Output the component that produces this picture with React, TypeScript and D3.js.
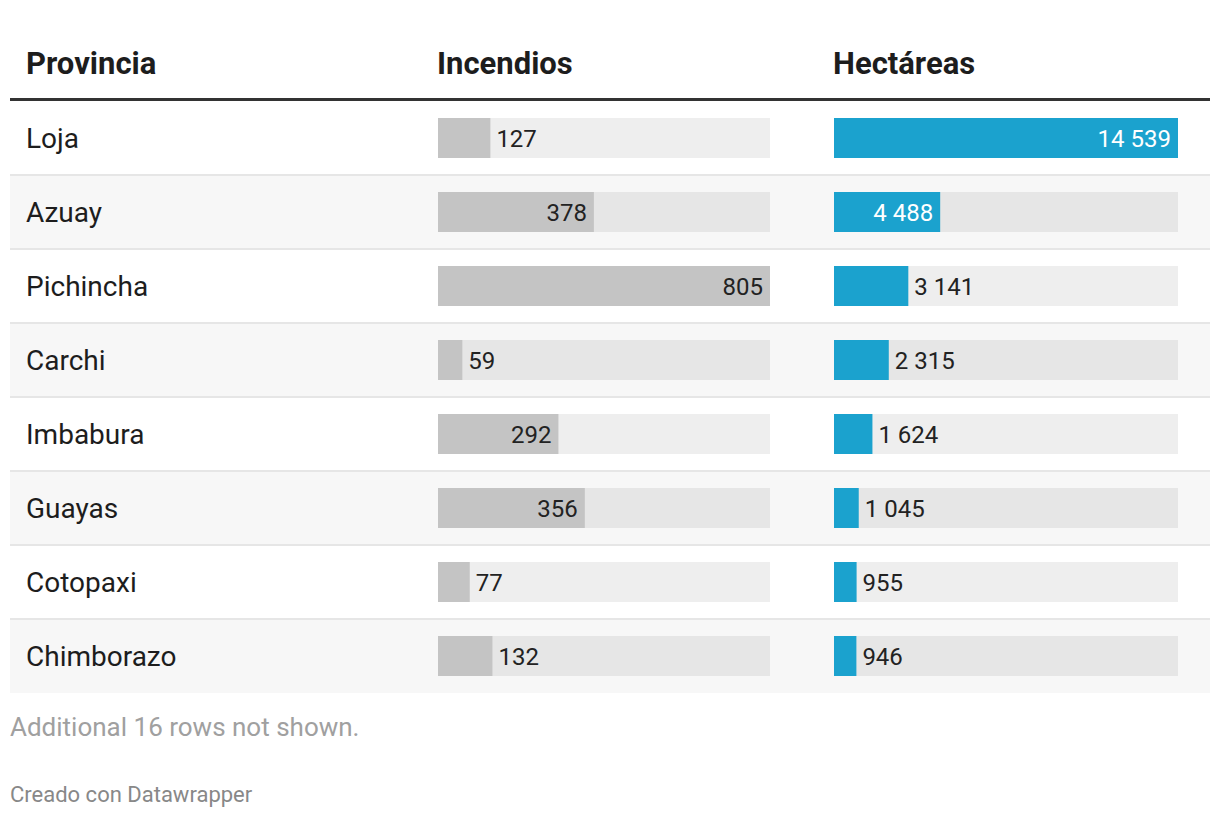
import React from "react";
import * as d3 from "d3";

const provinces = ["Loja", "Azuay", "Pichincha", "Carchi", "Imbabura", "Guayas", "Cotopaxi", "Chimborazo"];
const incendios = [127, 378, 805, 59, 292, 356, 77, 132];
const hectareas = [14539, 4488, 3141, 2315, 1624, 1045, 955, 946];
const headers = ["Provincia", "Incendios", "Hectáreas"];
const note = "Additional 16 rows not shown.";
const credit = "Creado con Datawrapper";

const W = 1220;
const H = 818;
const tableLeft = 10;
const tableRight = 1210;
const headerLineY = 98;
const rowTop = 101;
const rowH = 74;
const barH = 40;
const valueFont = 24;

const locale = d3.formatLocale({ decimal: ",", thousands: "\u2009", grouping: [3], currency: ["", ""] });
const fmt = (v: number) => locale.format(",d")(v).replace("\u2009", " ");

function textWidth(s: string) {
  let w = 0;
  for (const ch of s) w += ch === " " ? 0.25 : 0.562;
  return w * valueFont;
}

export default function App() {
  const xInc = d3.scaleLinear().domain([0, d3.max(incendios)!]).range([438, 770]);
  const xHa = d3.scaleLinear().domain([0, d3.max(hectareas)!]).range([834, 1178]);
  const yRow = d3.scaleBand<number>().domain(d3.range(provinces.length)).range([rowTop, rowTop + rowH * provinces.length]);

  const barCell = (
    v: number,
    x: d3.ScaleLinear<number, number>,
    y0: number,
    fill: string,
    bgFill: string,
    insideColor: string
  ) => {
    const [r0, r1] = x.range();
    const end = x(v);
    const bw = end - r0;
    const label = fmt(v);
    const inside = bw > textWidth(label) + 20;
    const cy = y0 + rowH / 2;
    return (
      <g>
        <rect x={r0} y={cy - barH / 2} width={r1 - r0} height={barH} fill={bgFill} />
        <rect x={r0} y={cy - barH / 2} width={bw} height={barH} fill={fill} />
        <text
          x={inside ? end - 7 : end + 6}
          y={cy + 8.5}
          textAnchor={inside ? "end" : "start"}
          fontSize={valueFont}
          fill={inside ? insideColor : "#222"}
        >
          {label}
        </text>
      </g>
    );
  };

  return (
    <svg
      width={W}
      height={H}
      style={{ position: "absolute", left: 0, top: 0, background: "#fff" }}
      fontFamily="Roboto, 'Noto Sans', sans-serif"
    >
      {headers.map((h, i) => (
        <text key={h} x={[26, 437, 833][i]} y={74} fontSize={31} fontWeight="bold" fill="#1d1d1d">
          {h}
        </text>
      ))}
      {provinces.map((p, i) => {
        const y0 = yRow(i)!;
        const odd = i % 2 === 1;
        return (
          <g key={p}>
            <rect x={tableLeft} y={y0} width={tableRight - tableLeft} height={rowH} fill={odd ? "#f7f7f7" : "#ffffff"} />
            {i > 0 && <rect x={tableLeft} y={y0 - 1} width={tableRight - tableLeft} height={2} fill="#e6e6e6" />}
            <text x={26} y={y0 + rowH / 2 + 10} fontSize={28} fill="#1d1d1d">
              {p}
            </text>
            {barCell(incendios[i], xInc, y0, "#c4c4c4", odd ? "#e6e6e6" : "#eeeeee", "#222")}
            {barCell(hectareas[i], xHa, y0, "#1ba2ce", odd ? "#e6e6e6" : "#eeeeee", "#ffffff")}
          </g>
        );
      })}
      <rect x={tableLeft} y={headerLineY} width={tableRight - tableLeft} height={3} fill="#333333" />
      <text x={10} y={736} fontSize={26} fill="#a0a0a0">
        {note}
      </text>
      <text x={10} y={802} fontSize={22} fill="#888888">
        {credit}
      </text>
    </svg>
  );
}
